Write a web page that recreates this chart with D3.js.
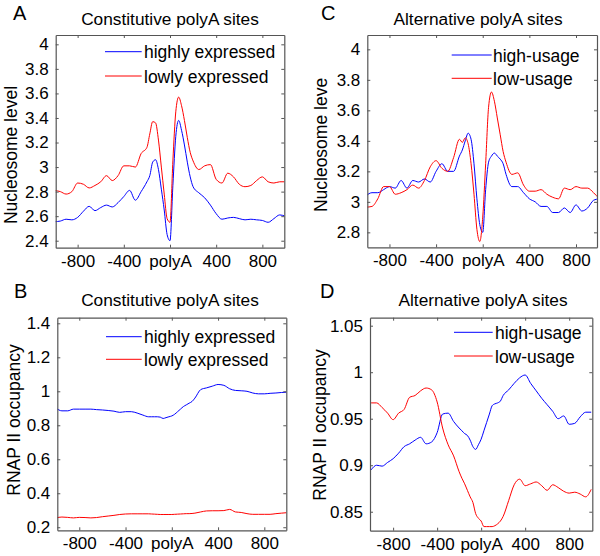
<!DOCTYPE html>
<html>
<head>
<meta charset="utf-8">
<script src="https://cdn.jsdelivr.net/npm/d3@7/dist/d3.min.js"></script>
<style>
  body { margin: 0; background: #fff; }
  svg { font-family: Arial, "Liberation Sans", Helvetica, sans-serif; }
</style>
</head>
<body>
<div id="chart"></div>
<script>
// positions relative to the polyA site (bp)
const xPos = [-1000,-950,-900,-850,-800,-750,-700,-650,-600,-550,-500,-450,-400,-350,-300,-250,-200,
  -175,-150,-125,-100,-75,-50,-25,0,25,50,75,100,125,150,175,
  200,250,300,350,400,450,500,550,600,650,700,750,800,850,900,950,1000];

// A: nucleosome, constitutive sites
const nucHighExpr = [2.555,2.56,2.575,2.57,2.59,2.64,2.68,2.645,2.67,2.69,2.675,2.71,2.76,2.81,2.73,2.80,2.88,
  2.93,3.04,3.06,2.98,2.82,2.65,2.45,2.40,2.85,3.25,3.38,3.30,3.18,3.04,2.92,
  2.84,2.79,2.75,2.69,2.62,2.575,2.585,2.59,2.58,2.57,2.575,2.57,2.565,2.55,2.58,2.61,2.60];
const nucLowExpr = [2.81,2.80,2.78,2.80,2.87,2.86,2.83,2.85,2.88,2.93,2.89,2.93,3.01,3.01,3.00,3.11,3.16,
  3.27,3.37,3.36,3.22,3.00,2.78,2.58,2.55,3.05,3.45,3.57,3.50,3.38,3.24,3.12,
  3.05,2.98,3.01,3.02,2.90,2.87,2.95,2.92,2.86,2.84,2.85,2.89,2.92,2.88,2.87,2.88,2.88];

// C: nucleosome, alternative sites
const nucHighUsage = [3.04,3.06,3.06,3.08,3.10,3.09,3.14,3.09,3.14,3.13,3.15,3.13,3.20,3.25,3.20,3.20,3.30,
  3.34,3.40,3.45,3.41,3.25,3.02,2.85,2.80,3.08,3.26,3.30,3.32,3.30,3.28,3.25,
  3.18,3.10,3.10,3.06,3.02,3.00,2.97,2.97,2.93,2.93,2.96,2.93,2.98,2.94,2.96,3.01,3.02];
const nucLowUsage = [2.965,2.97,3.02,3.10,3.10,3.05,3.06,3.08,3.11,3.09,3.14,3.23,3.27,3.22,3.20,3.29,3.41,
  3.39,3.42,3.38,3.25,3.05,2.82,2.74,2.90,3.25,3.62,3.72,3.66,3.55,3.44,3.33,
  3.26,3.18,3.19,3.11,3.07,3.07,3.08,3.05,3.03,3.02,3.09,3.08,3.10,3.09,3.09,3.06,3.02];

// B: RNAP II, constitutive sites
const polHighExpr = [0.90,0.885,0.885,0.895,0.895,0.895,0.895,0.892,0.89,0.887,0.883,0.876,0.88,0.88,0.872,0.86,0.85,
  0.85,0.85,0.85,0.848,0.84,0.845,0.85,0.855,0.865,0.88,0.895,0.91,0.92,0.93,0.94,
  0.96,1.01,1.02,1.03,1.04,1.035,1.015,1.005,1.003,1.0,0.99,0.985,0.985,0.988,0.99,0.993,0.995];
const polLowExpr = [0.255,0.26,0.258,0.255,0.258,0.257,0.255,0.257,0.262,0.266,0.27,0.275,0.278,0.279,0.279,0.279,0.279,
  0.278,0.277,0.276,0.275,0.275,0.275,0.275,0.275,0.276,0.277,0.278,0.279,0.28,0.28,0.281,
  0.283,0.29,0.296,0.297,0.297,0.298,0.305,0.29,0.287,0.28,0.276,0.276,0.276,0.276,0.28,0.283,0.286];

// D: RNAP II, alternative sites
const polHighUsage = [0.895,0.90,0.899,0.903,0.907,0.913,0.92,0.923,0.927,0.93,0.923,0.925,0.935,0.955,0.956,0.947,0.94,
  0.937,0.934,0.932,0.927,0.92,0.917,0.922,0.928,0.937,0.946,0.955,0.964,0.966,0.967,0.969,
  0.975,0.981,0.988,0.994,0.997,0.988,0.98,0.972,0.965,0.958,0.95,0.953,0.944,0.945,0.952,0.957,0.957];
const polLowUsage = [0.967,0.967,0.962,0.956,0.949,0.956,0.96,0.973,0.975,0.98,0.983,0.981,0.968,0.94,0.922,0.91,0.893,
  0.886,0.88,0.873,0.866,0.86,0.848,0.843,0.84,0.834,0.834,0.834,0.834,0.835,0.837,0.84,
  0.845,0.862,0.879,0.885,0.878,0.88,0.882,0.878,0.873,0.879,0.876,0.872,0.87,0.871,0.869,0.866,0.874];

const xTicks = [-800, -400, 0, 400, 800];
const xTickLabels = ["-800", "-400", "polyA", "400", "800"];
const yTicksNucA = [2.4, 2.6, 2.8, 3, 3.2, 3.4, 3.6, 3.8, 4];
const yTicksNucC = [2.8, 3, 3.2, 3.4, 3.6, 3.8, 4];
const yTicksPolB = [0.2, 0.4, 0.6, 0.8, 1, 1.2, 1.4];
const yTicksPolD = [0.85, 0.9, 0.95, 1, 1.05];

const W = 600, H = 556;
const svg = d3.select("#chart").append("svg").attr("width", W).attr("height", H);

const panels = [
  { id: "A", title: "Constitutive polyA sites", ylab: "Nucleosome level",
    box: [55.7, 284.3, 35, 247.7], xd: [-990, 990], yd: [2.343, 4.076], yt: yTicksNucA,
    s1: nucHighExpr, s2: nucLowExpr, n1: "highly expressed", n2: "lowly expressed",
    letter: [13, 20], titleAt: [170, 25], ylabAt: [17, 155], leg: [105, 141.7, 51.7, 76, 144] },
  { id: "C", title: "Alternative polyA sites", ylab: "Nucleosome leve",
    box: [367.3, 597, 35, 247.3], xd: [-990, 980], yd: [2.702, 4.094], yt: yTicksNucC,
    s1: nucHighUsage, s2: nucLowUsage, n1: "high-usage", n2: "low-usage",
    letter: [321, 20], titleAt: [478, 25], ylabAt: [327, 145], leg: [451.7, 491.7, 55, 78.3, 493] },
  { id: "B", title: "Constitutive polyA sites", ylab: "RNAP II occupancy",
    box: [57.3, 286.3, 317.7, 530.3], xd: [-990, 990], yd: [0.182, 1.433], yt: yTicksPolB,
    s1: polHighExpr, s2: polLowExpr, n1: "highly expressed", n2: "lowly expressed",
    letter: [14, 298], titleAt: [170, 306], ylabAt: [20, 420], leg: [106, 141.7, 336.7, 359.3, 144] },
  { id: "D", title: "Alternative polyA sites", ylab: "RNAP II occupancy",
    box: [370, 592.3, 317.7, 530.7], xd: [-1010, 1010], yd: [0.8296, 1.0586], yt: yTicksPolD,
    s1: polHighUsage, s2: polLowUsage, n1: "high-usage", n2: "low-usage",
    letter: [320, 298], titleAt: [483, 306], ylabAt: [326, 425], leg: [454, 492.7, 332.3, 356, 495] }
];

const axisCol = "#555";

panels.forEach(p => {
  const [x0, x1, y0, y1] = p.box;
  const x = d3.scaleLinear().domain(p.xd).range([x0, x1]);
  const y = d3.scaleLinear().domain(p.yd).range([y1, y0]);
  const g = svg.append("g");

  g.append("clipPath").attr("id", "clip" + p.id)
    .append("rect").attr("x", x0).attr("y", y0).attr("width", x1 - x0).attr("height", y1 - y0);

  const line = d3.line().x((d, i) => x(xPos[i])).y(d => y(d)).curve(d3.curveMonotoneX);
  g.append("path").datum(p.s1).attr("d", line).attr("fill", "none")
    .attr("stroke", "#0000ff").attr("stroke-width", 1).attr("clip-path", `url(#clip${p.id})`);
  g.append("path").datum(p.s2).attr("d", line).attr("fill", "none")
    .attr("stroke", "#ff0000").attr("stroke-width", 1).attr("clip-path", `url(#clip${p.id})`);

  // axes, matlab style: ticks inside on all four sides
  const bottom = g.append("g").attr("transform", `translate(0,${y1})`)
    .call(d3.axisBottom(x).tickValues(xTicks).tickSizeInner(-3).tickSizeOuter(0).tickPadding(7)
      .tickFormat((d, i) => xTickLabels[i]));
  const top = g.append("g").attr("transform", `translate(0,${y0})`)
    .call(d3.axisTop(x).tickValues(xTicks).tickSizeInner(-3).tickSizeOuter(0).tickFormat(""));
  const left = g.append("g").attr("transform", `translate(${x0},0)`)
    .call(d3.axisLeft(y).tickValues(p.yt).tickSizeInner(-3).tickSizeOuter(0).tickPadding(7)
      .tickFormat(d3.format("")));
  const right = g.append("g").attr("transform", `translate(${x1},0)`)
    .call(d3.axisRight(y).tickValues(p.yt).tickSizeInner(-3).tickSizeOuter(0).tickFormat(""));

  [bottom, top, left, right].forEach(a => {
    a.select(".domain").attr("stroke", axisCol).attr("stroke-width", 1.2);
    a.selectAll(".tick line").attr("stroke", axisCol);
    a.selectAll("text").attr("fill", "#000").attr("font-size", 17)
      .attr("font-family", "Arial, 'Liberation Sans', sans-serif");
  });
  bottom.selectAll("text").attr("dy", "0.71em");

  g.append("text").attr("x", p.letter[0]).attr("y", p.letter[1])
    .attr("font-size", 20).text(p.id);
  g.append("text").attr("x", p.titleAt[0]).attr("y", p.titleAt[1])
    .attr("text-anchor", "middle").attr("font-size", 17.3).text(p.title);
  g.append("text").attr("transform", `translate(${p.ylabAt[0]},${p.ylabAt[1]}) rotate(-90)`)
    .attr("text-anchor", "middle").attr("font-size", 17.5).text(p.ylab);

  const [lx0, lx1, ly1, ly2, tx] = p.leg;
  [[ly1, "#0000ff", p.n1], [ly2, "#ff0000", p.n2]].forEach(([ly, c, name]) => {
    g.append("line").attr("x1", lx0).attr("x2", lx1).attr("y1", ly).attr("y2", ly)
      .attr("stroke", c).attr("stroke-width", 1);
    g.append("text").attr("x", tx).attr("y", ly + 6.5).attr("font-size", 17.5).text(name);
  });
});
</script>
</body>
</html>
